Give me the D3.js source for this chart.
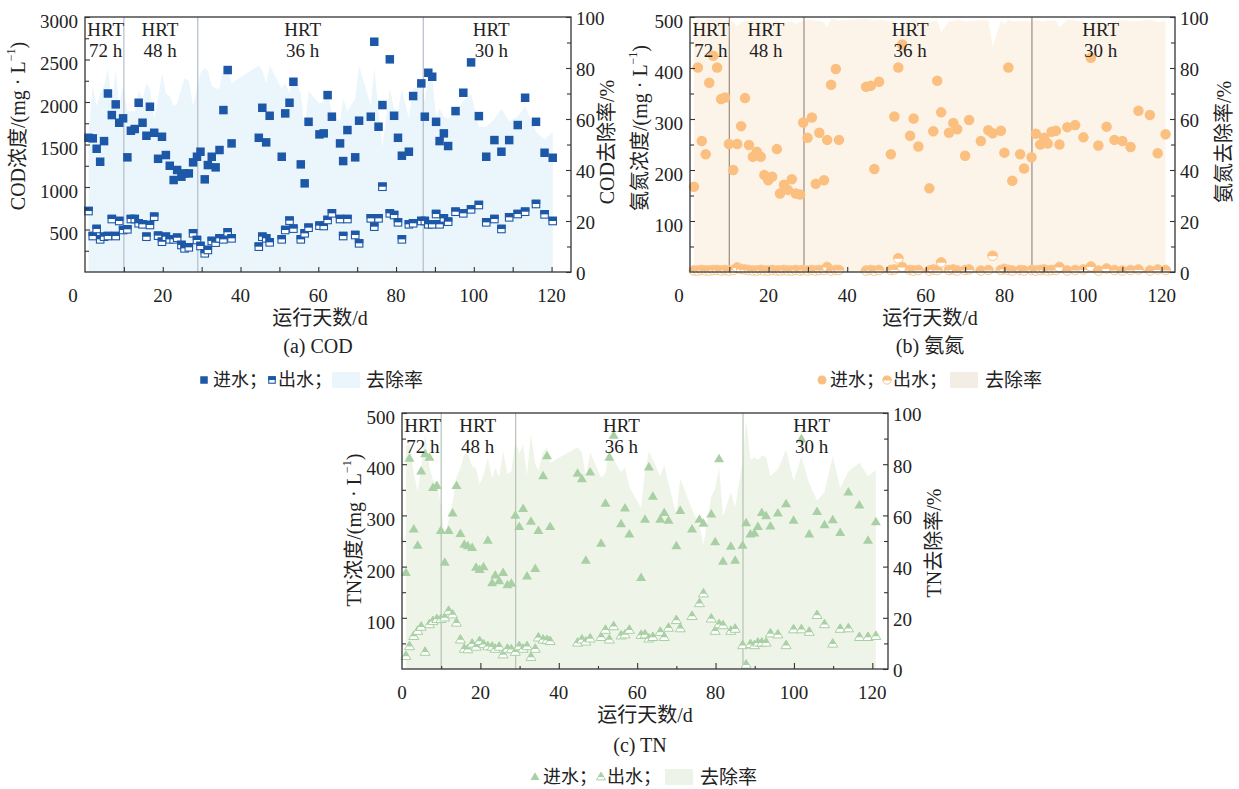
<!DOCTYPE html>
<html><head><meta charset="utf-8">
<script src="https://cdn.jsdelivr.net/npm/d3@7"></script>
<style>
body{margin:0;background:#fff}
svg text{font-family:"Liberation Serif","Noto Sans CJK SC",serif;fill:#222}
</style>
</head><body>
<svg id="chart" width="1239" height="789"></svg>
<script>
// ---------------- DATA ----------------
const hrtDays = [10, 29, 87];
const hrtLabelDays = [5.3, 19.3, 56, 104.5];
const hrtNames = ["72 h", "48 h", "36 h", "30 h"];
const xTickVals = [0, 20, 40, 60, 80, 100, 120];
const rateTicks = [0, 20, 40, 60, 80, 100];
const codTicks = [500, 1000, 1500, 2000, 2500, 3000];
const nhTicks = [100, 200, 300, 400, 500];
const tnTicks = [100, 200, 300, 400, 500];

// COD
const codDay = [0.9,2,3,3.9,4.9,5.9,6.9,7.9,8.8,9.8,10.9,11.8,12.8,13.8,14.8,15.8,16.7,17.8,18.8,19.8,20.8,21.8,22.8,23.7,24.8,25.6,26.7,27.8,28.8,29.7,30.8,31.6,32.6,33.6,34.6,35.6,36.7,37.7,
 44.7,45.6,46.6,47.5,50.6,51.5,52.6,53.6,55.5,56.5,57.5,60.3,61.4,62.4,63.5,65.6,66.4,67.5,69.5,70.5,73.5,74.4,75.5,76.5,78.4,79.5,80.5,81.5,83.3,84.4,86.5,87.4,88.3,89.3,90.3,91.2,92.3,93.4,95.3,97.3,99.3,101.3,103.2,105.3,107.1,109.1,111.3,113.2,116,118.2,120.3];
const codIn = [1579,1572,1450,1297,1540,2100,1846,1972,1756,1808,1349,1662,1682,1991,1756,1603,1944,1638,1332,1591,1376,1250,1082,1200,1121,1160,1160,1290,1356,1415,1090,1258,1356,1231,1435,1905,2376,1513,
 1579,1932,1525,1838,1356,1866,1991,2238,1266,1043,1767,1619,1631,2081,1827,1513,1305,1670,1349,1780,1827,2709,1709,1964,2502,1838,1579,1368,1415,2070,2219,1827,2344,2297,1767,1540,1631,1482,1893,2109,2466,1834,1356,1552,1415,1552,1729,2050,1767,1403,1344];
const codOut = [717,423,506,384,415,423,623,423,600,494,502,623,623,573,561,415,553,650,427,356,415,384,384,403,318,278,290,455,376,306,220,259,365,345,396,384,467,396,
 298,415,396,349,384,494,604,510,384,455,521,545,541,612,690,623,423,623,435,337,631,533,631,1003,690,670,584,384,561,573,600,600,561,561,682,561,631,592,709,690,737,788,584,623,506,643,682,709,800,678,600];
const codRate = [55,73,65,70,73,80,66,79,66,73,63,63,63,71,68,74,72,60,68,78,70,69,65,66,72,76,75,65,72,78,80,79,73,72,72,80,80,74,
 81,79,74,81,72,74,70,77,70,56,71,66,67,71,62,59,68,63,68,81,65,80,63,49,72,64,63,72,60,72,73,67,76,76,61,64,61,60,63,67,70,57,57,60,64,59,61,65,55,52,55];

// Ammonia nitrogen
const nhDay = [1,2,3,4,4.9,5.9,6.9,7.9,8.9,9.9,11,12,13,14,15,16,17,18,18.9,19.9,20.9,22.1,22.9,23.9,24.9,25.9,26.9,28,28.8,29.9,31,32,32.9,34.1,34.9,35.9,37.1,37.9,
 44.8,46,46.9,48.1,51.1,52,53,54,56,56.9,58.1,60.9,61.9,62.9,63.9,65.9,67,68,70,71,74,75.9,77,79.1,80,81,82,84,85,86.9,88,89.1,90.1,91,92,93.1,94,96,98,100.1,102,103.9,106,108,110,112.1,114.1,117,119,121];
const nhIn = [167,401,257,231,371,424,401,339,342,251,200,251,286,341,249,226,236,226,190,180,187,241,154,171,161,182,154,152,293,263,303,173,273,180,259,367,398,259,
 363,365,202,373,231,305,401,446,267,301,246,164,276,375,313,273,292,280,228,298,257,278,272,277,234,401,179,231,203,225,271,250,263,252,275,277,250,284,288,264,420,248,285,259,257,245,316,308,233,270];
const nhOut = [3,3,4,3,3,4,4,3,4,3,4,9,6,5,4,3,3,4,3,3,4,3,3,4,3,3,4,3,4,3,4,3,4,4,10,3,4,4,
 3,4,3,4,4,5,27,10,4,3,4,3,5,4,19,4,5,3,4,5,3,4,32,4,6,4,3,4,3,4,3,4,5,3,4,4,10,3,4,5,11,3,7,4,3,4,5,3,5,4];
const nhRate = [98.2,99.3,98.4,98.7,99.2,99.1,99.0,99.1,98.8,98.8,98.0,96.4,97.9,98.5,98.4,98.7,98.7,98.2,98.4,98.3,97.9,98.8,98.1,97.7,98.1,98.4,97.4,98.0,98.6,98.9,98.7,98.3,98.5,97.8,96.1,99.2,99.0,98.5,
 99.2,98.9,98.5,98.9,98.3,98.4,93.3,97.8,98.5,99.0,98.4,98.2,98.2,98.9,93.9,98.5,98.3,98.9,98.2,98.3,98.8,98.6,88.2,98.6,97.4,99.0,98.3,98.3,98.5,98.2,98.9,98.4,98.1,98.8,98.5,98.6,96.0,98.9,98.6,98.1,97.4,98.8,97.5,98.5,98.8,98.4,98.4,99.0,97.9,98.5];

// Total nitrogen
const tnDay = [1,1.9,3,4,4.9,5.9,7,7.9,8.9,9.9,10.9,11.9,12.9,13.9,14.9,15.9,16.8,17.9,18.9,19.8,20.8,21.9,23,23.8,24.8,25.8,26.9,27.9,28.9,29.9,30.9,31.9,32.9,34,34.8,36,37,37.8,
 44.8,45.9,46.9,48,50.8,51.9,52.9,54,55.9,56.9,58,61,62,63,64,65.9,66.9,68,70,71,74,75.9,76.9,78.9,79.9,80.9,81.9,83.9,85,86.9,87.8,88.9,89.9,90.8,91.8,92.9,94,95.9,98,99.9,101.9,103.9,105.9,107.8,109.9,111.8,113.9,116.7,118.9,120.9];
const tnIn = [188,411,273,241,386,420,413,354,358,270,208,270,304,358,264,243,240,237,198,194,199,251,168,183,172,188,164,167,300,278,313,181,288,196,270,377,416,278,
 382,371,212,384,245,323,413,456,283,314,263,178,292,394,337,292,305,290,240,309,273,292,284,302,248,410,210,239,212,241,285,263,265,278,305,299,279,304,322,290,449,263,307,281,291,266,345,320,251,287];
const tnOut = [25,44,64,74,82,33,87,93,97,97,100,113,106,90,57,39,38,49,43,54,48,44,43,39,43,28,39,38,33,44,39,44,23,39,61,57,56,54,
 51,57,53,59,62,76,57,83,65,67,76,66,67,59,62,72,62,80,95,79,103,128,147,98,74,87,85,74,78,46,8,48,46,51,51,51,69,67,46,77,77,72,105,87,49,78,79,62,62,64];
const tnRate = [86.7,89.3,76.6,69.3,78.8,92.1,78.9,73.7,72.9,64.1,51.9,58.1,65.1,74.9,78.4,84.0,84.2,79.3,78.3,72.2,75.9,82.5,74.4,78.7,75.0,85.1,76.2,77.2,89.0,84.2,87.5,75.7,92.0,80.1,77.4,84.9,86.5,80.6,
 86.6,84.6,75.0,84.6,74.7,76.5,86.2,81.8,77.0,78.7,71.1,62.9,77.1,85.0,81.6,75.3,79.7,72.4,60.4,74.4,62.3,56.2,48.2,67.5,70.2,78.8,59.5,69.0,63.2,80.9,97.2,81.7,82.6,81.7,83.3,82.9,75.3,78.0,85.7,73.4,82.9,72.6,65.8,69.0,83.2,70.7,77.1,80.6,75.3,77.7];

// ---------------- LAYOUT ----------------
const panels = [
 {day:codDay, inV:codIn, out:codOut, rate:codRate, ticks:codTicks, yMax:3000, minor:250,
  frame:[85,571,17,272], xMax:125, color:"#1d58a8", area:"#ebf5fc", swatch:"#ebf5fc", hrt:"#b4bec8",
  shape:"square", zeroShift:-12, xMinorSame:true,
  lt:["COD浓度/(mg · L","−1",")"], ltX:18, ltY:126, rt:"COD去除率/%", rtX:607, rtY:142,
  xt:[320,318], sub:["(a) COD",318,346], legY:380, leg:[204,213,272,278,332,366]},
 {day:nhDay, inV:nhIn, out:nhOut, rate:nhRate, ticks:nhTicks, yMax:500, minor:50,
  frame:[690,1175,17,272], xMax:123.4, color:"#fbbf7f", area:"#fdf4e9", swatch:"#f4ede5", hrt:"#9e8b80",
  shape:"circle", zeroShift:-11, xMinorSame:true,
  lt:["氨氮浓度/(mg · L","−1",")"], ltX:640, ltY:128, rt:"氨氮去除率/%", rtX:1224, rtY:142,
  xt:[930,318], sub:["(b) 氨氮",930,346], legY:380, leg:[822,830,887,893,950,985]},
 {day:tnDay, inV:tnIn, out:tnOut, rate:tnRate, ticks:tnTicks, yMax:500, minor:50,
  frame:[402,888,413,669], xMax:124, color:"#a8d0a4", area:"#eff4e8", swatch:"#eef3e8", hrt:"#b5c2b5",
  shape:"tri", zeroShift:0, xMinorSame:false,
  lt:["TN浓度/(mg · L","−1",")"], ltX:354, ltY:530, rt:"TN去除率/%", rtX:934, rtY:543,
  xt:[645,715], sub:["(c) TN",640,745], legY:777, leg:[535,543,601,607,665,700]}
];

const svg = d3.select("#chart");
const fmt = d3.format("d");

function marker(g, shape, cx, cy, s, color, eff){
  if(shape==="square"){
    const h=s/2;
    if(!eff){ g.append("rect").attr("x",cx-h).attr("y",cy-h).attr("width",s).attr("height",s).attr("fill",color); }
    else {
      g.append("rect").attr("x",cx-h+0.5).attr("y",cy-h+0.5).attr("width",s-1).attr("height",s-1)
        .attr("fill","#fff").attr("stroke",color).attr("stroke-width",1.1);
      g.append("rect").attr("x",cx-h).attr("y",cy-h).attr("width",s).attr("height",s*0.5).attr("fill",color);
    }
  } else if(shape==="circle"){
    const r=s/2;
    if(!eff){ g.append("circle").attr("cx",cx).attr("cy",cy).attr("r",r).attr("fill",color); }
    else {
      g.append("circle").attr("cx",cx).attr("cy",cy).attr("r",r-0.4).attr("fill","#fff").attr("stroke",color).attr("stroke-width",0.9);
      g.append("path").attr("d",`M${cx-r},${cy+0.5} A${r},${r} 0 0 1 ${cx+r},${cy+0.5} Z`).attr("fill",color);
    }
  } else {
    const w=s, h=s*0.85;
    const pts=[[cx,cy-h*0.62],[cx-w/2,cy+h*0.38],[cx+w/2,cy+h*0.38]];
    if(!eff){ g.append("polygon").attr("points",pts.map(p=>p.join(",")).join(" ")).attr("fill",color); }
    else {
      g.append("polygon").attr("points",pts.map(p=>p.join(",")).join(" ")).attr("fill","#fff").attr("stroke",color).attr("stroke-width",1);
      const f=0.62;
      const tp=[[cx,cy-h*0.62],[cx-w/2*f,cy-h*0.62+h*f],[cx+w/2*f,cy-h*0.62+h*f]];
      g.append("polygon").attr("points",tp.map(p=>p.join(",")).join(" ")).attr("fill",color);
    }
  }
}

panels.forEach(p=>{
  const [fx0,fx1,fy0,fy1]=p.frame;
  const x=d3.scaleLinear().domain([0,p.xMax]).range([fx0,fx1]);
  const yL=d3.scaleLinear().domain([0,p.yMax]).range([fy1,fy0]);
  const yR=d3.scaleLinear().domain([0,100]).range([fy1,fy0]);
  const g=svg.append("g");
  const rows=p.day.map((d,i)=>({d, v:p.inV[i], o:p.out[i], r:p.rate[i]}));

  // removal-rate area
  g.append("path").datum(rows)
    .attr("d",d3.area().x(d=>x(d.d)).y0(yR(0)).y1(d=>yR(d.r)))
    .attr("fill",p.area);

  // HRT boundaries
  hrtDays.forEach(h=>{
    g.append("line").attr("x1",x(h)).attr("x2",x(h)).attr("y1",fy0).attr("y2",fy1)
      .attr("stroke",p.hrt).attr("stroke-width",1.2);
  });

  const size = p.shape==="circle"?10.5:(p.shape==="tri"?10:8.5);
  rows.forEach(d=>marker(g,p.shape,x(d.d),yL(d.o),size,p.color,true));
  rows.forEach(d=>marker(g,p.shape,x(d.d),yL(d.v),size,p.color,false));

  // frame
  g.append("rect").attr("x",fx0).attr("y",fy0).attr("width",fx1-fx0).attr("height",fy1-fy0)
    .attr("fill","none").attr("stroke","#333").attr("stroke-width",1.3);

  // bottom axis ticks
  const xMinorVals=d3.range(10,p.xMax,20);
  const bot=g.append("g").attr("transform",`translate(0,${fy1})`)
    .call(d3.axisBottom(x).tickValues(xTickVals.filter(v=>v>0)).tickSizeInner(p.xMinorSame?-5:-6).tickSizeOuter(0).tickFormat(""));
  bot.select(".domain").remove();
  const botm=g.append("g").attr("transform",`translate(0,${fy1})`)
    .call(d3.axisBottom(x).tickValues(xMinorVals).tickSizeInner(p.xMinorSame?-5:-3).tickSizeOuter(0).tickFormat(""));
  botm.select(".domain").remove();
  // bottom labels
  xTickVals.forEach(v=>{
    g.append("text").attr("x",x(v)+(v===0?p.zeroShift:0)).attr("y",fy1+30)
      .attr("text-anchor","middle").attr("font-size",19).text(fmt(v));
  });

  // left axis
  const la=g.append("g").attr("transform",`translate(${fx0},0)`)
    .call(d3.axisLeft(yL).tickValues(p.ticks).tickFormat(fmt).tickSizeInner(-5).tickSizeOuter(0).tickPadding(7));
  la.select(".domain").remove();
  la.selectAll("text").attr("font-size",19).attr("dy","0.55em").attr("fill","#222").attr("font-family",null);
  const lm=g.append("g").attr("transform",`translate(${fx0},0)`)
    .call(d3.axisLeft(yL).tickValues(d3.range(p.minor,p.yMax,p.minor*2)).tickSizeInner(-4).tickSizeOuter(0).tickFormat(""));
  lm.select(".domain").remove();

  // right axis
  const ra=g.append("g").attr("transform",`translate(${fx1},0)`)
    .call(d3.axisRight(yR).tickValues(rateTicks).tickFormat(fmt).tickSizeInner(-5).tickSizeOuter(0).tickPadding(5));
  ra.select(".domain").remove();
  ra.selectAll("text").attr("font-size",19).attr("dy","0.42em").attr("fill","#222").attr("font-family",null);
  const rm=g.append("g").attr("transform",`translate(${fx1},0)`)
    .call(d3.axisRight(yR).tickValues([10,30,50,70,90]).tickSizeInner(-4).tickSizeOuter(0).tickFormat(""));
  rm.select(".domain").remove();
  g.selectAll(".tick line").attr("stroke","#333").attr("stroke-width",1.1);

  // axis titles
  const lt=g.append("text").attr("transform",`translate(${p.ltX},${p.ltY}) rotate(-90)`)
    .attr("text-anchor","middle").attr("dominant-baseline","central").attr("font-size",20);
  lt.append("tspan").text(p.lt[0]);
  lt.append("tspan").attr("dy",-7).attr("font-size",12).text(p.lt[1]);
  lt.append("tspan").attr("dy",7).text(p.lt[2]);
  g.append("text").attr("transform",`translate(${p.rtX},${p.rtY}) rotate(-90)`)
    .attr("text-anchor","middle").attr("dominant-baseline","central").attr("font-size",20).text(p.rt);
  g.append("text").attr("x",p.xt[0]).attr("y",p.xt[1]).attr("text-anchor","middle")
    .attr("dominant-baseline","central").attr("font-size",20).text("运行天数/d");
  g.append("text").attr("x",p.sub[1]).attr("y",p.sub[2]).attr("text-anchor","middle")
    .attr("dominant-baseline","central").attr("font-size",20).text(p.sub[0]);

  // HRT labels
  hrtLabelDays.forEach((d,i)=>{
    g.append("text").attr("x",x(d)).attr("y",fy0+12).attr("text-anchor","middle")
      .attr("dominant-baseline","central").attr("font-size",19).attr("fill","#333").text("HRT");
    g.append("text").attr("x",x(d)).attr("y",fy0+33).attr("text-anchor","middle")
      .attr("dominant-baseline","central").attr("font-size",19).attr("fill","#333").text(hrtNames[i]);
  });

  // legend
  const L=p.leg, ly=p.legY, lg=svg.append("g");
  const ms = p.shape==="square"?7.5:9;
  marker(lg,p.shape,L[0],ly,ms,p.color,false);
  lg.append("text").attr("x",L[1]).attr("y",ly).attr("dominant-baseline","central").attr("font-size",18).text("进水；");
  marker(lg,p.shape,L[2],ly,ms,p.color,true);
  lg.append("text").attr("x",L[3]).attr("y",ly).attr("dominant-baseline","central").attr("font-size",18).text("出水；");
  lg.append("rect").attr("x",L[4]).attr("y",ly-8).attr("width",28).attr("height",16).attr("fill",p.swatch);
  lg.append("text").attr("x",L[5]).attr("y",ly).attr("dominant-baseline","central").attr("font-size",19).text("去除率");
});
</script>
</body></html>
